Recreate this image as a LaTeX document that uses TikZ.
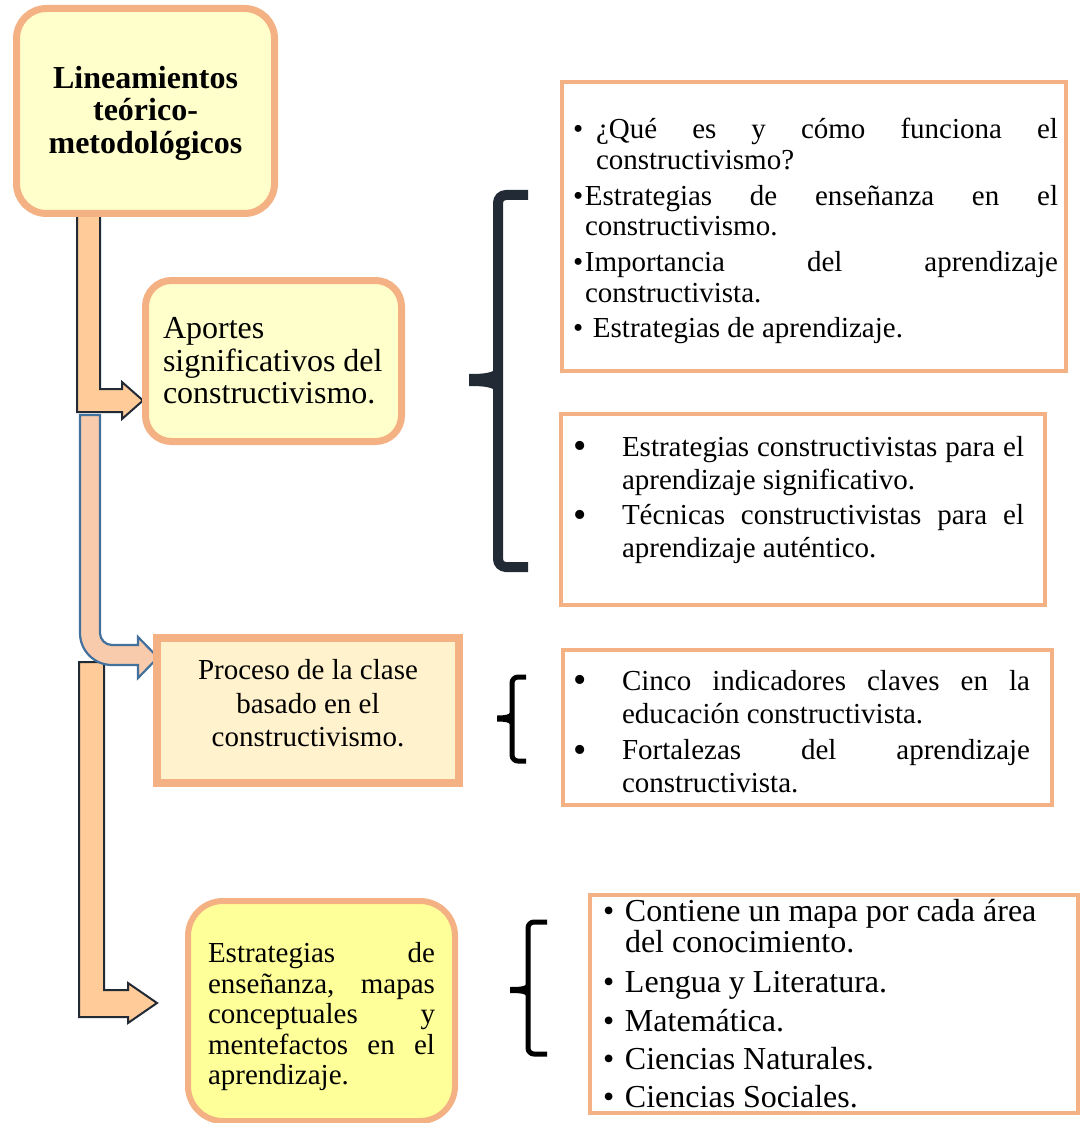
\documentclass[tikz,border=0pt]{standalone}
\usepackage{fontspec}
\setmainfont{Liberation Serif}
\definecolor{bord}{HTML}{F4B183}
\definecolor{yelA}{HTML}{FFFFCC}
\definecolor{yelB}{HTML}{FFF2CC}
\definecolor{yelC}{HTML}{FFFF99}
\definecolor{peach}{HTML}{FFCC99}
\definecolor{peachB}{HTML}{F8CBAD}
\definecolor{navy}{HTML}{222A35}
\definecolor{steel}{HTML}{41719C}
\newcommand{\bulA}[1]{\makebox[#1][l]{•}}
\newcommand{\bulL}[1]{\llap{\makebox[#1][l]{•}}}
\newcommand{\bigbulL}[1]{\llap{\makebox[#1][l]{\raisebox{-1.3pt}{\fontsize{19pt}{19pt}\selectfont •}}}}
\newcommand{\jline}[1]{\makebox[\linewidth][s]{#1}}
\begin{document}
\begin{tikzpicture}[x=0.5pt,y=-0.5pt,
  box/.style={draw=bord, inner sep=0pt, outer sep=0pt},
  rbox/.style={box, line width=2pt, fill=white},
  txt/.style={inner sep=0pt, outer sep=0pt, align=justify},
  darrow/.style={draw=navy, line width=1pt, fill=peach, line join=miter},
  barrow/.style={draw=steel, line width=1.1pt, fill=peachB, line join=miter},
  bracebig/.style={draw=navy, line width=5pt, rounded corners=4pt},
  bracesmall/.style={draw=black, line width=2.5pt, rounded corners=3pt},
]
\clip (0,0) rectangle (1081,1123);
\fill[white] (0,0) rectangle (1081,1123);

% ---- block arrows ----
\draw[darrow] (79,662) -- (104,662) -- (104,990) -- (128,990) -- (128,983) -- (157,1003)
  -- (128,1023) -- (128,1017) -- (79,1017) -- cycle;
\draw[barrow] (80,415) -- (100,415) -- (100,633) .. controls (100,639.6) and (105.4,645) .. (112,645)
  -- (138,645) -- (138,637) -- (158,657.5) -- (138,678) -- (138,665) -- (112,665)
  .. controls (94.3,665) and (80,650.7) .. (80,633) -- cycle;
\draw[darrow] (77,214) -- (100,214) -- (100,389) -- (122,389) -- (122,382) -- (143,400.5)
  -- (122,419) -- (122,412) -- (77,412) -- cycle;

% ---- left boxes ----
\node[box, line width=3.5pt, fill=yelA, rounded corners=15pt, minimum width=129pt, minimum height=102.5pt] (title) at (145.5,111) {};
\node[box, line width=3.5pt, fill=yelA, rounded corners=13pt, minimum width=128pt, minimum height=80.5pt] (aportes) at (273.5,361) {};
\node[box, line width=4pt, fill=yelB, minimum width=151pt, minimum height=72.5pt] (proceso) at (308,710.5) {};
\node[box, line width=3pt, fill=yelC, rounded corners=17.5pt, minimum width=133.5pt, minimum height=110pt] (estrat) at (321.5,1011) {};

% ---- right boxes ----
\node[rbox, minimum width=252pt, minimum height=144.5pt] (r1) at (814,226.5) {};
\node[rbox, minimum width=242pt, minimum height=95.5pt] (r2) at (803,509.5) {};
\node[rbox, minimum width=244.5pt, minimum height=77.5pt] (r3) at (807.5,727.5) {};
\node[rbox, minimum width=244pt, minimum height=109pt] (r4) at (834,1004) {};

% ---- braces ----
\draw[bracebig] (528,195) -- (498,195) -- (498,567) -- (528,567);
\fill[navy] (498,362) .. controls (498,372) and (490,374) .. (469,374) -- (469,386)
  .. controls (490,386) and (498,388) .. (498,398) -- cycle;
\draw[bracesmall] (526,677) -- (512,677) -- (512,761) -- (526,761);
\fill[black] (512,708) .. controls (512,714) and (508,715.5) .. (497,715.5) -- (497,721.5)
  .. controls (508,721.5) and (512,723) .. (512,729) -- cycle;
\draw[bracesmall] (547,922) -- (528,922) -- (528,1054) -- (547,1054);
\fill[black] (528,980) .. controls (528,986) and (524,987) .. (510,987) -- (510,993)
  .. controls (524,993) and (528,994) .. (528,1000) -- cycle;

% ---- texts ----
\node[txt, anchor=base, align=flush center, text width=125pt,
  font=\bfseries\fontsize{16pt}{16.25pt}\selectfont] (ttitle) at (145.5,88.5)
  {Lineamientos\\teórico-\\metodológicos};
\node[txt, anchor=base west, text width=125pt,
  font=\fontsize{16pt}{16.25pt}\selectfont] (taportes) at (163,338.5)
  {Aportes\\significativos del\\constructivismo.};
\node[txt, anchor=base, align=flush center, text width=150pt,
  font=\fontsize{14.5pt}{16.75pt}\selectfont] (tproceso) at (308,679.5)
  {Proceso de la clase\\basado en el\\constructivismo.};
\node[txt, anchor=base west, text width=113.5pt,
  font=\fontsize{14.5pt}{15.3pt}\selectfont] (testrat) at (208,962.5)
  {\jline{Estrategias de}\\\jline{enseñanza, mapas}\\\jline{conceptuales y}\\\jline{mentefactos en el}\\aprendizaje.};

\node[txt, anchor=base west, text width=242.5pt,
  font=\fontsize{14.5pt}{15.25pt}\selectfont] (tr1) at (573,139)
  {\jline{\bulA{11.5pt}¿Qué es y cómo funciona el}\\
   \hspace*{11.5pt}constructivismo?\\[2.75pt]
   \jline{\bulA{6pt}Estrategias de enseñanza en el}\\
   \hspace*{6pt}constructivismo.\\[2.75pt]
   \jline{\bulA{6pt}Importancia del aprendizaje}\\
   \hspace*{6pt}constructivista.\\[2.5pt]
   \bulA{10pt}Estrategias de aprendizaje.};
\node[txt, anchor=base west, text width=201pt,
  font=\fontsize{14.5pt}{16.5pt}\selectfont] (tr2) at (622,456)
  {\bigbulL{24.5pt}\jline{Estrategias constructivistas para el}\\
   aprendizaje significativo.\\[1.25pt]
   \bigbulL{24.5pt}\jline{Técnicas constructivistas para el}\\
   aprendizaje auténtico.};
\node[txt, anchor=base west, text width=204pt,
  font=\fontsize{14.5pt}{16.5pt}\selectfont] (tr3) at (622,690)
  {\bigbulL{24.5pt}\jline{Cinco indicadores claves en la}\\
   educación constructivista.\\[1.75pt]
   \bigbulL{24.5pt}\jline{Fortalezas del aprendizaje}\\
   constructivista.};
\node[txt, anchor=base west, text width=225pt,
  font=\fontsize{16pt}{15.75pt}\selectfont] (tr4) at (625,921)
  {\bulL{11pt}Contiene un mapa por cada área\\
   del conocimiento.\\[4pt]
   \bulL{11pt}Lengua y Literatura.\\[3.75pt]
   \bulL{11pt}Matemática.\\[3.25pt]
   \bulL{11pt}Ciencias Naturales.\\[3.25pt]
   \bulL{11pt}Ciencias Sociales.};
\end{tikzpicture}
\end{document}
